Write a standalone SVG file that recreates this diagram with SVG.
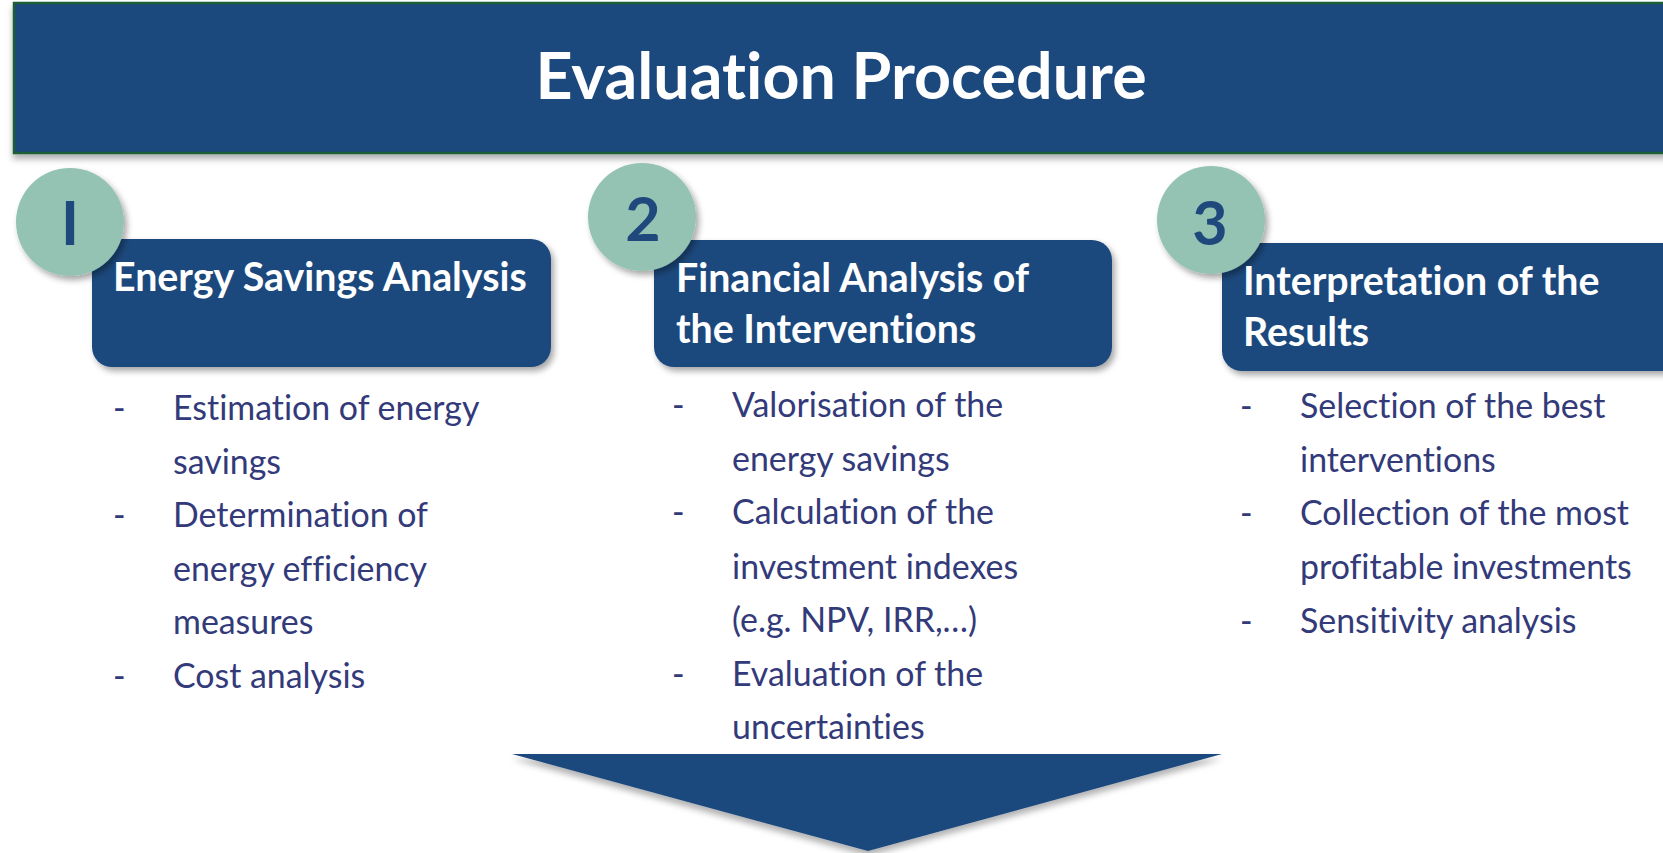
<svg xmlns="http://www.w3.org/2000/svg" width="1663" height="853" viewBox="0 0 1663 853">
  <style>
    text { font-variant-ligatures: none; font-feature-settings: "liga" 0; }
    .panel { fill: #1f497d; }
    .badge { fill: #95c3b3; }
    .num { font-family: Lato, "Open Sans", sans-serif; font-weight: 700; font-size: 61px; fill: #1f497d; text-anchor: middle; }
    .head { font-family: Lato, "Open Sans", sans-serif; font-weight: 700; font-size: 39.3px; fill: #ffffff; }
    .item { font-family: Lato, "Open Sans", sans-serif; font-size: 33.9px; fill: #333a7a; }
  </style>
  <defs>
    <filter id="shadow" x="-10%" y="-10%" width="130%" height="140%">
      <feDropShadow dx="3" dy="4" stdDeviation="3" flood-color="#000000" flood-opacity="0.35"/>
    </filter>
    <filter id="shadowDown" x="-10%" y="-10%" width="130%" height="140%">
      <feDropShadow dx="0" dy="5" stdDeviation="3" flood-color="#000000" flood-opacity="0.3"/>
    </filter>
  </defs>

  <rect width="1663" height="853" fill="#ffffff"/>

  <!-- title banner -->
  <g id="title">
    <rect x="14" y="3" width="1680" height="150" fill="#1f497d" stroke="#1b5e36" stroke-width="2.5" filter="url(#shadowDown)"/>
    <text x="841" y="99" font-family="Lato, 'Open Sans', sans-serif" font-weight="700" font-size="64.5" fill="#ffffff" text-anchor="middle">Evaluation Procedure</text>
  </g>

  <!-- step 1 -->
  <g id="step1">
    <rect class="panel" x="92" y="239" width="459" height="128" rx="20" filter="url(#shadow)"/>
    <circle class="badge" cx="70" cy="222" r="54" filter="url(#shadow)"/>
    <text class="num" x="70" y="245">I</text>
    <text class="head" x="113" y="291">Energy Savings Analysis</text>
    <g class="item">
      <text x="113" y="420">-</text><text x="173" y="420">Estimation of energy</text>
      <text x="173" y="474">savings</text>
      <text x="113" y="527">-</text><text x="173" y="527">Determination of</text>
      <text x="173" y="581">energy efficiency</text>
      <text x="173" y="634">measures</text>
      <text x="113" y="688">-</text><text x="173" y="688">Cost analysis</text>
    </g>
  </g>

  <!-- step 2 -->
  <g id="step2">
    <rect class="panel" x="654" y="240" width="458" height="127" rx="20" filter="url(#shadow)"/>
    <circle class="badge" cx="642" cy="217" r="54" filter="url(#shadow)"/>
    <text class="num" x="643" y="241">2</text>
    <text class="head" x="676" y="292">Financial Analysis of</text>
    <text class="head" x="676" y="343">the Interventions</text>
    <g class="item">
      <text x="672" y="417">-</text><text x="732" y="417">Valorisation of the</text>
      <text x="732" y="471">energy savings</text>
      <text x="672" y="524">-</text><text x="732" y="524">Calculation of the</text>
      <text x="732" y="579">investment indexes</text>
      <text x="732" y="632">(e.g. NPV, IRR,…)</text>
      <text x="672" y="686">-</text><text x="732" y="686">Evaluation of the</text>
      <text x="732" y="739">uncertainties</text>
    </g>
  </g>

  <!-- step 3 -->
  <g id="step3">
    <rect class="panel" x="1222" y="243" width="480" height="128" rx="20" filter="url(#shadow)"/>
    <circle class="badge" cx="1211" cy="220" r="54" filter="url(#shadow)"/>
    <text class="num" x="1210" y="245">3</text>
    <text class="head" x="1243" y="295">Interpretation of the</text>
    <text class="head" x="1243" y="346">Results</text>
    <g class="item">
      <text x="1240" y="418">-</text><text x="1300" y="418">Selection of the best</text>
      <text x="1300" y="472">interventions</text>
      <text x="1240" y="525">-</text><text x="1300" y="525">Collection of the most</text>
      <text x="1300" y="579">profitable investments</text>
      <text x="1240" y="633">-</text><text x="1300" y="633">Sensitivity analysis</text>
    </g>
  </g>

  <!-- downward arrow -->
  <g id="connectors">
    <polygon points="512,754 1222,754 868,851" fill="#1f497d" filter="url(#shadowDown)"/>
  </g>
</svg>
